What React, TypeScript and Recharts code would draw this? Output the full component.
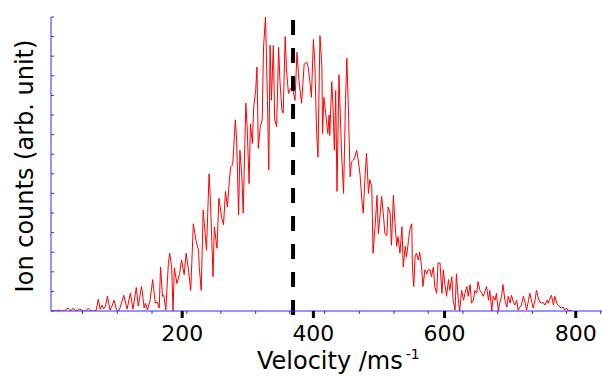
import React from 'react';
import { LineChart, Line, XAxis, YAxis, ReferenceLine, Label } from 'recharts';

// Velocity (m/s) of each sample
const velocity = [
  2, 8, 11, 15, 20, 26, 30, 34, 38, 44,
  49, 53, 57, 61, 66, 69, 72, 75, 78, 80,
  83, 86, 90, 93, 96, 100, 103, 105, 111, 116,
  121, 125, 130, 133, 138, 142, 144, 147, 151, 155,
  159, 162, 165, 167, 170, 172, 175, 179, 181, 184,
  186, 188, 192, 196, 199, 203, 206, 209, 213, 217,
  221, 225, 226, 229, 232, 235, 237, 241, 243, 247,
  249, 253, 256, 260, 263, 266, 269, 272, 274, 277,
  281, 283, 286, 288, 291, 293, 297, 299, 302, 304,
  307, 309, 312, 314, 316, 319, 322, 324, 327, 330,
  332, 334, 336, 339, 341, 344, 347, 349, 352, 354,
  357, 359, 362, 365, 369, 372, 375, 378, 382, 386,
  390, 392, 395, 397, 400, 402, 405, 407, 410, 413,
  414, 416, 419, 422, 424, 425, 428, 430, 432, 434,
  436, 439, 443, 446, 449, 451, 453, 456, 458, 461,
  463, 466, 468, 471, 474, 476, 479, 481, 484, 486,
  489, 491, 494, 497, 499, 502, 504, 507, 509, 512,
  514, 517, 519, 522, 524, 527, 529, 532, 535, 537,
  540, 542, 545, 547, 550, 551, 553, 555, 557, 560,
  562, 565, 567, 570, 573, 575, 578, 580, 583, 585,
  588, 590, 593, 596, 598, 601, 603, 606, 608, 611,
  613, 616, 618, 621, 623, 626, 629, 631, 634, 636,
  639, 641, 644, 646, 649, 651, 654, 657, 659, 662,
  664, 667, 669, 672, 674, 677, 679, 682, 684, 687,
  689, 692, 695, 697, 700, 702, 705, 707, 710, 712,
  715, 717, 720, 723, 725, 728, 730, 733, 735, 738,
  740, 743, 745, 748, 750, 753, 756, 758, 761, 763,
  766, 768, 771, 773, 776, 778, 781, 783, 786, 789,
  791, 794,
];

// Ion counts (arbitrary units) of each sample
const counts = [
  0, 0, 1, 0, 0, 3, 0, 3, 0, 2,
  0, 0, 3, 0, 0, 1, 12, 2, 6, 2,
  5, 15, 1, 5, 11, 1, 0, 3, 16, 2,
  18, 2, 24, 5, 25, 3, 8, 1, 11, 32,
  8, 9, 3, 45, 15, 16, 1, 49, 59, 44,
  0, 44, 28, 38, 52, 37, 59, 45, 21, 89,
  72, 62, 45, 21, 103, 79, 62, 140, 113, 35,
  86, 64, 115, 96, 88, 122, 106, 134, 147, 149,
  195, 174, 98, 164, 137, 100, 212, 188, 130, 191,
  171, 208, 225, 249, 166, 188, 195, 269, 300, 215,
  144, 271, 215, 271, 195, 188, 269, 235, 205, 202,
  280, 246, 222, 227, 225, 215, 264, 235, 212, 252,
  254, 249, 232, 218, 277, 256, 181, 157, 281, 249,
  181, 218, 200, 181, 200, 179, 234, 208, 164, 225,
  122, 241, 161, 120, 215, 258, 215, 137, 152, 154,
  157, 164, 156, 140, 113, 100, 140, 161, 120, 134,
  127, 59, 86, 118, 79, 100, 117, 96, 79, 77,
  106, 100, 67, 118, 93, 66, 76, 59, 86, 45,
  66, 55, 72, 83, 89, 45, 25, 55, 59, 52,
  60, 45, 25, 42, 38, 42, 42, 35, 45, 25,
  18, 49, 49, 18, 42, 25, 15, 32, 21, 35,
  11, 1, 38, 11, 0, 21, 11, 18, 25, 15,
  27, 8, 11, 21, 18, 30, 21, 18, 15, 21,
  25, 11, 21, 0, 15, 11, 18, 0, 8, 15,
  27, 11, 4, 15, 8, 16, 9, 6, 11, 1,
  4, 6, 15, 8, 1, 11, 18, 9, 3, 11,
  21, 13, 9, 8, 9, 6, 11, 8, 13, 16,
  6, 15, 8, 6, 4, 3, 4, 1, 3, 0,
  1, 0,
];

const majorXTicks = [200, 400, 600, 800];
const minorXTicks = [48, 101, 154, 207, 259, 312, 364, 417, 470, 523, 575, 628, 681, 734, 786, 838];
const yTicks = [0, 20, 40, 60, 80, 100, 120, 140, 160, 180, 200, 220, 240, 260, 280, 300];
const xDomain = [0, 840];
const yDomain = [0, 300];
const markerVelocity = 369;

const data = velocity.map((v, i) => ({ v, c: counts[i] }));
const allXTicks = [...majorXTicks, ...minorXTicks].sort((a, b) => a - b);

const FONT = '"DejaVu Sans", Verdana, sans-serif';
const AXIS_BLUE = '#2a2aff';

const XTick = (props: any) => {
  const { x, y, payload } = props;
  const v = payload.value;
  if (majorXTicks.includes(v)) {
    return (
      <g>
        <line x1={x} x2={x} y1={y} y2={y + 7} stroke="#000" strokeWidth={3} />
        <text x={x} y={y + 30} textAnchor="middle" fontSize={22} fontFamily={FONT} fill="#000">
          {v}
        </text>
      </g>
    );
  }
  return <line x1={x} x2={x} y1={y} y2={y + 3} stroke={AXIS_BLUE} strokeWidth={1} />;
};

const YTick = (props: any) => {
  const { x, y } = props;
  return <line x1={x} x2={x + 3} y1={y} y2={y} stroke={AXIS_BLUE} strokeWidth={1} />;
};

const DashedMarker = (p: any) => {
  const top = Math.min(p.y1, p.y2);
  const bottom = Math.max(p.y1, p.y2);
  return (
    <line
      x1={p.x1}
      x2={p.x2}
      y1={top + 3}
      y2={bottom + 4}
      stroke="#000"
      strokeWidth={4}
      strokeDasharray="15 13"
    />
  );
};

export default function App() {
  return (
    <div style={{ position: 'absolute', left: 0, top: 0, width: 602, height: 376, background: '#fff' }}>
      <LineChart width={602} height={376} data={data} margin={{ top: 17, right: 0, bottom: 0, left: 0 }}>
        <XAxis
          type="number"
          dataKey="v"
          domain={xDomain}
          ticks={allXTicks}
          interval={0}
          tickSize={0}
          tickMargin={0}
          tickLine={false}
          tick={<XTick />}
          axisLine={{ stroke: AXIS_BLUE, strokeWidth: 1 }}
          height={65}
          allowDataOverflow
        >
          <Label
            content={() => (
              <text x={257} y={369} fontSize={24} fontFamily={FONT} fill="#000">
                Velocity /ms
                <tspan fontSize={14} dy={-10} dx={3}>-1</tspan>
              </text>
            )}
          />
        </XAxis>
        <YAxis
          type="number"
          domain={yDomain}
          ticks={yTicks}
          interval={0}
          tickSize={0}
          tickMargin={0}
          tickLine={false}
          tick={<YTick />}
          axisLine={{ stroke: AXIS_BLUE, strokeWidth: 1 }}
          width={51}
          allowDataOverflow
        >
          <Label
            content={() => (
              <text
                x={33}
                y={166}
                textAnchor="middle"
                fontSize={24}
                fontFamily={FONT}
                fill="#000"
                transform="rotate(-90, 33, 166)"
              >
                Ion counts (arb. unit)
              </text>
            )}
          />
        </YAxis>
        <Line
          type="linear"
          dataKey="c"
          stroke="#ff0000"
          strokeWidth={1}
          dot={false}
          activeDot={false}
          isAnimationActive={false}
        />
        <ReferenceLine x={markerVelocity} shape={DashedMarker} ifOverflow="visible" />
      </LineChart>
    </div>
  );
}
